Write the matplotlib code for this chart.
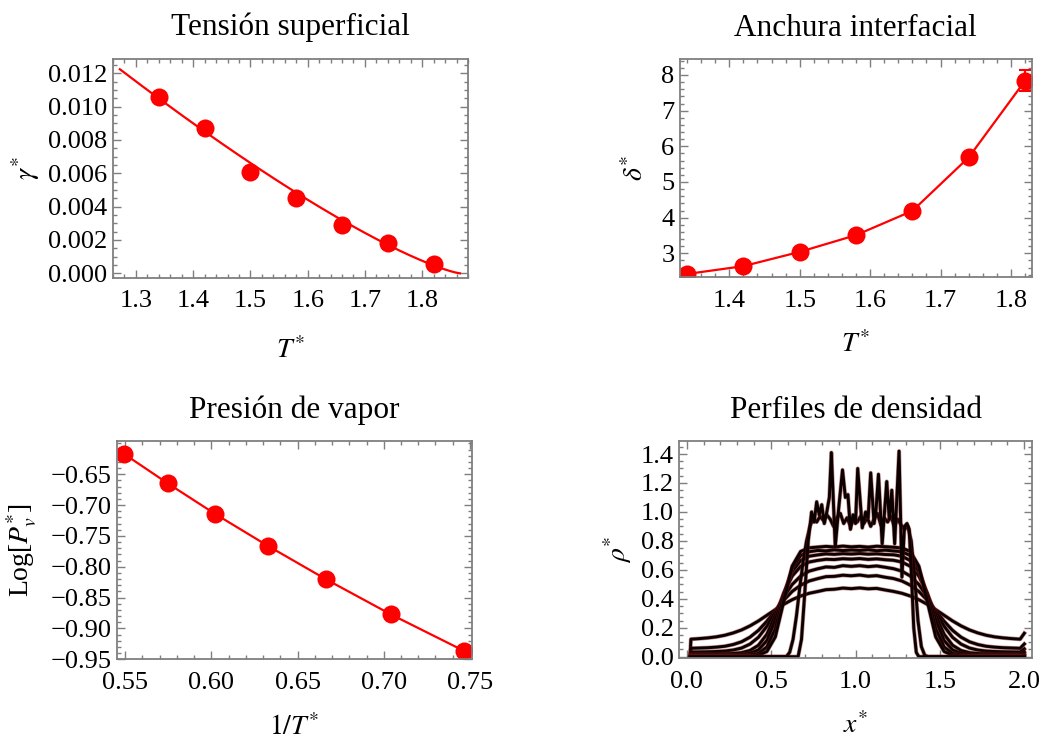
import numpy as np
import matplotlib
matplotlib.use("Agg")
import matplotlib.pyplot as plt

plt.rcParams.update({
    "font.family": ["Liberation Serif", "DejaVu Serif"],
    "mathtext.fontset": "stix",
    "axes.unicode_minus": True,
})

# ---------------- data ----------------
temperature = np.array([1.34, 1.42, 1.50, 1.58, 1.66, 1.74, 1.82])

surface_tension = np.array([0.01056, 0.0087, 0.0061, 0.0045, 0.0029, 0.0018, 0.00054])
# fitted law gamma = gamma0 * (1 - T/Tc)^mu
fit_gamma0 = 0.0524
fit_tc = 1.866
fit_mu = 1.27
fit_t_start = 1.272

interface_width = np.array([2.42, 2.64, 3.04, 3.51, 4.19, 5.69, 7.84])
interface_width_err = np.array([0.05, 0.05, 0.06, 0.07, 0.09, 0.13, 0.30])

log_vapor_pressure = np.array([-0.936, -0.8773, -0.8205, -0.7662, -0.7146, -0.6646, -0.617])

# density profiles: common grid for the smooth (fluid) profiles
x_profile = np.r_[0.02, np.arange(0.025, 2.0, 0.05), 2.0]
profile_134 = [0.0,
    0.003, 0.003, 0.003, 0.003, 0.003, 0.003, 0.003, 0.005, 0.010, 0.036,
    0.137, 0.382, 0.626, 0.727, 0.752, 0.757, 0.762, 0.758, 0.764, 0.759,
    0.762, 0.757, 0.763, 0.760, 0.756, 0.751, 0.727, 0.626, 0.382, 0.137,
    0.036, 0.010, 0.005, 0.003, 0.003, 0.003, 0.003, 0.003, 0.003, 0.003,
    0.006]
profile_142 = [0.0,
    0.006, 0.006, 0.006, 0.006, 0.006, 0.006, 0.007, 0.011, 0.023, 0.067,
    0.193, 0.419, 0.613, 0.699, 0.725, 0.734, 0.731, 0.738, 0.733, 0.737,
    0.734, 0.739, 0.732, 0.736, 0.731, 0.725, 0.699, 0.613, 0.419, 0.193,
    0.067, 0.023, 0.011, 0.007, 0.006, 0.006, 0.006, 0.006, 0.006, 0.006,
    0.012]
profile_150 = [0.0,
    0.010, 0.010, 0.010, 0.010, 0.011, 0.011, 0.014, 0.023, 0.047, 0.111,
    0.249, 0.436, 0.589, 0.664, 0.694, 0.703, 0.710, 0.707, 0.712, 0.709,
    0.713, 0.708, 0.711, 0.706, 0.704, 0.694, 0.664, 0.589, 0.436, 0.249,
    0.111, 0.047, 0.023, 0.014, 0.011, 0.011, 0.010, 0.010, 0.010, 0.010,
    0.021]
profile_158 = [0.0,
    0.018, 0.018, 0.018, 0.019, 0.020, 0.022, 0.028, 0.043, 0.079, 0.155,
    0.285, 0.438, 0.557, 0.624, 0.654, 0.665, 0.673, 0.671, 0.677, 0.674,
    0.678, 0.672, 0.676, 0.670, 0.666, 0.654, 0.624, 0.557, 0.438, 0.285,
    0.155, 0.079, 0.043, 0.028, 0.022, 0.020, 0.019, 0.018, 0.018, 0.018,
    0.034]
profile_166 = [0.0,
    0.032, 0.033, 0.034, 0.036, 0.039, 0.046, 0.060, 0.087, 0.134, 0.210,
    0.309, 0.413, 0.499, 0.557, 0.591, 0.607, 0.620, 0.617, 0.629, 0.624,
    0.629, 0.622, 0.627, 0.618, 0.608, 0.591, 0.557, 0.499, 0.413, 0.309,
    0.210, 0.134, 0.087, 0.060, 0.046, 0.039, 0.036, 0.034, 0.033, 0.032,
    0.054]
profile_174 = [0.0,
    0.058, 0.060, 0.062, 0.066, 0.072, 0.084, 0.103, 0.135, 0.182, 0.245,
    0.318, 0.390, 0.451, 0.494, 0.523, 0.539, 0.553, 0.555, 0.563, 0.559,
    0.564, 0.556, 0.560, 0.549, 0.540, 0.523, 0.494, 0.451, 0.390, 0.318,
    0.245, 0.182, 0.135, 0.103, 0.084, 0.072, 0.066, 0.062, 0.060, 0.058,
    0.088]
profile_182 = [0.0,
    0.121, 0.125, 0.130, 0.137, 0.148, 0.164, 0.185, 0.213, 0.247, 0.286,
    0.325, 0.362, 0.394, 0.419, 0.438, 0.450, 0.463, 0.466, 0.474, 0.470,
    0.475, 0.469, 0.472, 0.461, 0.451, 0.438, 0.419, 0.394, 0.362, 0.325,
    0.286, 0.247, 0.213, 0.185, 0.164, 0.148, 0.137, 0.130, 0.125, 0.121,
    0.162]

# dense liquid slab
x_dense = [0.02, 0.59, 0.61, 0.63, 0.65, 0.67, 0.69, 0.71, 0.73, 0.75,
           0.77, 0.79, 0.81, 0.83, 0.85, 0.87, 0.89, 0.91, 0.93, 0.95,
           0.97, 0.99, 1.01, 1.03, 1.05, 1.07, 1.09, 1.11, 1.13, 1.15,
           1.17, 1.19, 1.21, 1.23, 1.25, 1.27, 1.29, 1.31, 1.33, 1.35,
           1.37, 1.39, 1.41, 1.43, 2.00]
rho_dense = [0.0, 0.0, 0.03, 0.12, 0.28, 0.48, 0.66, 0.80, 0.90, 0.96,
             0.93, 0.97, 0.94, 0.98, 0.95, 0.90, 0.96, 0.99, 0.92, 0.96,
             0.90, 0.95, 0.93, 0.97, 0.92, 0.96, 0.90, 0.95, 0.99, 0.91,
             0.96, 0.93, 0.97, 0.90, 0.95, 0.91, 0.88, 0.90, 0.80, 0.55,
             0.25, 0.07, 0.01, 0.0, 0.0]

# layered (solid-like) slab
x_layered = [0.02, 0.66, 0.68, 0.70, 0.72, 0.74, 0.755, 0.77, 0.785, 0.80,
             0.815, 0.83, 0.845, 0.857, 0.88, 0.90, 0.923, 0.94, 0.955, 0.97,
             0.985, 1.00, 1.013, 1.04, 1.06, 1.075, 1.09, 1.11, 1.122, 1.136,
             1.158, 1.175, 1.185, 1.20, 1.215, 1.232, 1.258, 1.275, 1.29, 1.305,
             1.318, 1.33, 1.345, 1.36, 1.375, 2.00]
rho_layered = [0.0, 0.0, 0.12, 0.45, 0.80, 1.00, 0.93, 1.07, 0.98, 1.05,
               0.92, 1.00, 1.10, 1.41, 0.76, 1.02, 1.29, 1.10, 1.12, 0.88,
               0.98, 0.92, 1.30, 0.89, 1.00, 0.96, 1.27, 0.92, 1.02, 1.26,
               0.78, 1.05, 1.21, 0.95, 1.15, 0.78, 1.42, 0.55, 0.90, 0.92,
               0.88, 0.60, 0.20, 0.03, 0.0, 0.0]

# ticks
t_ticks = [1.3, 1.4, 1.5, 1.6, 1.7, 1.8]
gamma_ticks = [0.000, 0.002, 0.004, 0.006, 0.008, 0.010, 0.012]
delta_ticks = [3, 4, 5, 6, 7, 8]
inv_t_ticks = [0.55, 0.60, 0.65, 0.70, 0.75]
logp_ticks = [-0.95, -0.90, -0.85, -0.80, -0.75, -0.70, -0.65]
x_ticks = [0.0, 0.5, 1.0, 1.5, 2.0]
rho_ticks = [0.0, 0.2, 0.4, 0.6, 0.8, 1.0, 1.2, 1.4]

# ---------------- drawing ----------------
W, H = 1046, 740
fig = plt.figure(figsize=(W / 100, H / 100), dpi=100)

FRAME = "#7f7f7f"
RED = "#ff0000"


def make_axes(left, top, right, bottom):
    return fig.add_axes([left / W, 1 - bottom / H, (right - left) / W, (bottom - top) / H])


def style(ax, xt, xfmt, xminor, yt, yfmt, yminor):
    ax.set_xticks(xt)
    ax.set_xticklabels([xfmt.format(v).replace("-", "\u2212") for v in xt])
    ax.set_yticks(yt)
    ax.set_yticklabels([yfmt.format(v).replace("-", "\u2212") for v in yt])
    ax.set_xticks(xminor, minor=True)
    ax.set_yticks(yminor, minor=True)
    ax.tick_params(which="both", direction="in", top=True, right=True,
                   color=FRAME, width=1.0, labelsize=19)
    ax.tick_params(which="major", length=6)
    ax.tick_params(which="minor", length=3)
    ax.tick_params(axis="x", pad=9)
    ax.tick_params(axis="y", pad=4)
    for s in ax.spines.values():
        s.set_color(FRAME)
        s.set_linewidth(1.3)


def labels(ax, title, xlabel, ylabel, xl_y, yl_x, pad=17):
    ax.set_title(title, fontsize=22.5, pad=pad)
    ax.set_xlabel(xlabel, fontsize=20)
    ax.set_ylabel(ylabel, fontsize=20)
    ax.xaxis.set_label_coords(0.5, xl_y)
    ax.xaxis.label.set_va("center")
    ax.yaxis.set_label_coords(yl_x, 0.5)
    ax.yaxis.label.set_va("center")


def minor(lo, hi, step):
    return np.arange(lo, hi + step / 2, step)


# Surface tension
ax1 = make_axes(113, 59, 468, 278)
t_fit = np.linspace(fit_t_start, fit_tc, 300)
ax1.plot(t_fit, fit_gamma0 * np.clip(1 - t_fit / fit_tc, 0, None) ** fit_mu,
         color=RED, lw=1.6)
ax1.plot(temperature, surface_tension, "o", color=RED, ms=13, mec="none")
ax1.set_xlim(1.2602, 1.8744)
ax1.set_ylim(-0.00028, 0.01286)
style(ax1, t_ticks, "{:.1f}", minor(1.26, 1.88, 0.02),
      gamma_ticks, "{:.3f}", minor(0.0, 0.0125, 0.0005))
labels(ax1, "Tensión superficial", r"$T^{*}$", r"$\gamma^{*}$", -0.33, -0.245)

# Interfacial width
ax2 = make_axes(680, 59.3, 1031.7, 277.3)
ax2.plot(temperature, interface_width, color=RED, lw=1.6)
ax2.errorbar(temperature, interface_width, yerr=interface_width_err, fmt="o",
             color=RED, ms=13, mec="none", capsize=4, elinewidth=1.5, capthick=1.5)
ax2.set_xlim(1.33, 1.8294)
ax2.set_ylim(2.327, 8.44)
style(ax2, t_ticks[1:], "{:.1f}", minor(1.34, 1.82, 0.02),
      delta_ticks, "{:d}", minor(2.4, 8.4, 0.2))
labels(ax2, "Anchura interfacial", r"$T^{*}$", r"$\delta^{*}$", -0.31, -0.125)

# Vapour pressure
ax3 = make_axes(117.3, 440.7, 471.7, 659.3)
inv_t = 1.0 / temperature
ax3.plot(inv_t, log_vapor_pressure, color=RED, lw=1.6)
ax3.plot(inv_t, log_vapor_pressure, "o", color=RED, ms=13, mec="none")
ax3.set_xlim(0.5455, 0.751)
ax3.set_ylim(-0.95, -0.5955)
style(ax3, inv_t_ticks, "{:.2f}", minor(0.55, 0.75, 0.01),
      logp_ticks, "{:.2f}", minor(-0.95, -0.60, 0.01))
labels(ax3, "Presión de vapor", r"$1/T^{*}$", r"Log[$P_{v}^{*}$]", -0.31, -0.27, pad=16)

# Density profiles
ax4 = make_axes(679.3, 440.7, 1031.7, 658.3)
curves = [(x_profile, profile_182), (x_profile, profile_174), (x_profile, profile_166),
          (x_profile, profile_158), (x_profile, profile_150), (x_profile, profile_142),
          (x_profile, profile_134), (x_dense, rho_dense), (x_layered, rho_layered)]
for xs, ys in curves:
    ax4.plot(xs, ys, color="#8a1c1c", lw=3.0, alpha=0.5, solid_joinstyle="round")
    ax4.plot(xs, ys, color="#0a0000", lw=2.1, solid_joinstyle="round")
ax4.set_xlim(-0.0438, 2.0437)
ax4.set_ylim(-0.011, 1.492)
style(ax4, x_ticks, "{:.1f}", minor(0.0, 2.0, 0.1),
      rho_ticks, "{:.1f}", minor(0.0, 1.45, 0.05))
labels(ax4, "Perfiles de densidad", r"$x^{*}$", r"$\rho^{*}$", -0.31, -0.175, pad=16)

fig.savefig("out.png", dpi=100)
